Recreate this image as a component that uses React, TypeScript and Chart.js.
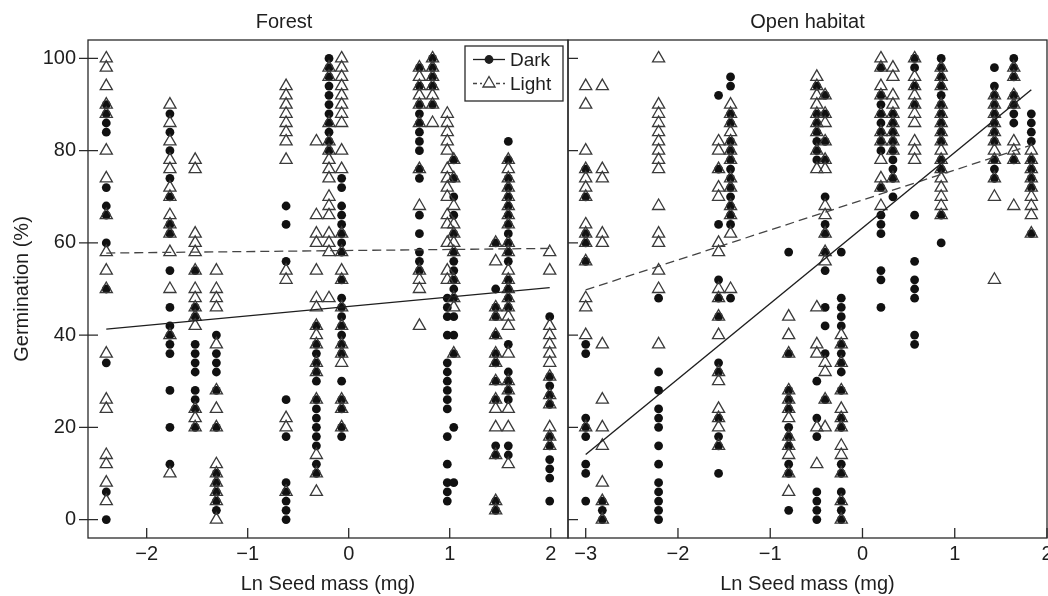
import React, { useEffect, useRef } from "react";
import { Chart, registerables } from "chart.js";

Chart.register(...registerables);

const FONT_FAMILY = "'Liberation Sans', Arial, Helvetica, sans-serif";
const INK = "#1e1e1e";
const TRI = "#3a3a3a";

// ---------- shared axis data ----------
const yTicks = [0, 20, 40, 60, 80, 100];
const forestXTicks = [-2, -1, 0, 1, 2];
const openXTicks = [-3, -2, -1, 0, 1, 2];

// ---------- Forest panel ----------
const forestX = [-2.40, -1.77, -1.52, -1.31, -0.62, -0.32, -0.195, -0.07, 0.70, 0.83, 0.976, 1.04, 1.455, 1.58, 1.99];

const forestDark: number[][] = [
  [90, 88, 86, 84, 72, 68, 66, 60, 50, 34, 6, 0],
  [88, 84, 80, 74, 70, 64, 62, 54, 46, 42, 40, 38, 36, 28, 20, 12],
  [54, 46, 44, 38, 36, 34, 32, 28, 26, 24, 20],
  [40, 36, 34, 32, 28, 20, 10, 8, 6, 4, 2],
  [68, 64, 56, 26, 18, 8, 6, 4, 2, 0],
  [42, 38, 36, 34, 32, 30, 26, 24, 22, 20, 18, 16, 12, 10],
  [100, 98, 96, 94, 92, 90, 88, 86, 84, 82, 80],
  [74, 72, 68, 66, 64, 62, 60, 58, 52, 48, 46, 44, 42, 40, 38, 36, 30, 26, 24, 20, 18],
  [98, 94, 90, 88, 86, 84, 82, 80, 76, 74, 66, 62, 58, 56, 54],
  [100, 98, 96, 94, 90],
  [48, 46, 44, 40, 34, 32, 30, 28, 26, 24, 18, 12, 8, 6, 4],
  [78, 74, 70, 66, 62, 58, 56, 54, 52, 50, 48, 44, 40, 36, 20, 8],
  [60, 50, 46, 44, 40, 36, 34, 30, 26, 16, 14, 4, 2],
  [82, 78, 74, 72, 70, 68, 66, 64, 62, 60, 58, 56, 52, 50, 48, 46, 38, 32, 30, 28, 26, 16, 14],
  [44, 31, 29, 27, 25, 18, 16, 13, 11, 9, 4],
];

const forestLight: number[][] = [
  [100, 98, 94, 90, 88, 80, 74, 66, 58, 54, 50, 36, 26, 24, 14, 12, 8, 4],
  [90, 86, 82, 78, 76, 72, 70, 66, 64, 62, 58, 50, 40, 10],
  [78, 76, 62, 60, 58, 54, 50, 48, 46, 44, 42, 24, 22, 20],
  [54, 50, 48, 46, 38, 28, 24, 20, 12, 10, 8, 6, 4, 0],
  [94, 92, 90, 88, 86, 84, 82, 78, 54, 52, 22, 20, 6],
  [82, 66, 62, 60, 54, 48, 46, 42, 40, 38, 34, 32, 26, 14, 10, 6],
  [98, 96, 86, 82, 80, 78, 76, 74, 70, 68, 66, 62, 60, 58, 48],
  [100, 98, 96, 94, 92, 90, 88, 86, 80, 76, 62, 58, 54, 52, 46, 42, 38, 36, 34, 26, 24, 20],
  [98, 96, 94, 92, 90, 86, 76, 68, 54, 52, 50, 42],
  [100, 98, 96, 94, 92, 90, 86],
  [88, 86, 84, 82, 80, 76, 74, 72, 70, 66, 64, 60, 54, 52],
  [78, 74, 68, 64, 62, 60, 58, 52, 48, 46, 36],
  [60, 56, 46, 44, 40, 36, 34, 30, 26, 24, 20, 14, 4, 2],
  [78, 76, 74, 72, 70, 68, 66, 64, 60, 58, 54, 52, 50, 48, 46, 44, 42, 36, 30, 28, 24, 20, 12],
  [58, 54, 42, 40, 38, 36, 34, 31, 27, 25, 20, 18, 16],
];

const forestDarkFit = [[-2.40, 41.3], [1.99, 50.3]];
const forestLightFit = [[-2.40, 57.8], [1.99, 58.8]];

// ---------- Open habitat panel ----------
const openX = [-3.0, -2.82, -2.21, -1.56, -1.43, -0.80, -0.495, -0.405, -0.23, 0.20, 0.33, 0.565, 0.853, 1.43, 1.64, 1.83];

const openDark: number[][] = [
  [76, 70, 62, 60, 56, 38, 36, 22, 20, 18, 12, 10, 4],
  [4, 2, 0],
  [48, 32, 28, 24, 22, 20, 16, 12, 8, 6, 4, 2, 0],
  [92, 76, 64, 52, 48, 44, 34, 32, 22, 18, 16, 10],
  [96, 94, 88, 86, 82, 80, 78, 76, 74, 72, 70, 68, 66, 64, 48],
  [58, 36, 28, 26, 24, 20, 18, 16, 12, 10, 2],
  [94, 88, 86, 84, 82, 80, 78, 30, 22, 18, 6, 4, 2, 0],
  [92, 88, 82, 78, 70, 64, 62, 58, 54, 46, 42, 36, 26],
  [58, 48, 46, 44, 42, 38, 36, 34, 32, 28, 22, 20, 12, 10, 6, 4, 2, 0],
  [98, 92, 90, 88, 86, 84, 82, 80, 72, 66, 64, 62, 54, 52, 46],
  [88, 86, 84, 82, 80, 78, 76, 74, 70],
  [100, 98, 94, 90, 66, 56, 52, 50, 48, 40, 38],
  [100, 98, 96, 94, 92, 90, 88, 86, 84, 82, 78, 76, 66, 60],
  [98, 94, 92, 90, 88, 86, 84, 82, 78, 76, 74],
  [100, 98, 96, 92, 90, 88, 86, 78],
  [88, 86, 84, 82, 78, 76, 74, 72, 62],
];

const openLight: number[][] = [
  [94, 90, 80, 76, 74, 72, 70, 64, 62, 60, 56, 48, 46, 40, 20],
  [94, 76, 74, 62, 60, 38, 26, 20, 16, 8, 4, 0],
  [100, 90, 88, 86, 84, 82, 80, 78, 76, 68, 62, 60, 54, 50, 38],
  [82, 80, 76, 72, 70, 60, 58, 50, 48, 44, 40, 32, 30, 24, 22, 20, 16],
  [90, 88, 86, 84, 82, 80, 78, 74, 72, 68, 66, 62, 50],
  [44, 40, 36, 28, 26, 24, 22, 18, 16, 14, 10, 6],
  [96, 94, 92, 90, 88, 86, 84, 80, 76, 46, 38, 36, 20, 12],
  [92, 88, 86, 82, 78, 76, 68, 66, 62, 58, 56, 34, 32, 26, 20],
  [40, 38, 34, 28, 24, 22, 20, 16, 14, 10, 4, 0],
  [100, 98, 94, 92, 88, 84, 82, 78, 74, 72, 68],
  [98, 96, 92, 90, 88, 86, 84, 82, 80, 74],
  [100, 96, 94, 92, 90, 88, 86, 82, 80, 78],
  [98, 96, 94, 90, 88, 86, 84, 82, 80, 78, 76, 74, 72, 70, 68, 66],
  [92, 90, 88, 86, 84, 82, 80, 78, 74, 70, 52],
  [98, 96, 92, 90, 82, 80, 78, 68],
  [80, 78, 76, 74, 72, 70, 68, 66, 62],
];

const openDarkFit = [[-3.0, 14.1], [1.83, 93.2]];
const openLightFit = [[-3.0, 49.8], [1.83, 81.2]];

// ---------- helpers ----------
function toPoints(xs: number[], cols: number[][]) {
  const pts: { x: number; y: number }[] = [];
  xs.forEach((x, i) => cols[i].forEach((v) => pts.push({ x, y: v })));
  return pts;
}
function fitPoints(pairs: number[][]) {
  return pairs.map(([x, y]) => ({ x, y }));
}
const fmt = (v: number) => (v < 0 ? "\u2212" + Math.abs(v) : String(v));

interface PanelSpec {
  title: string;
  xs: number[];
  dark: number[][];
  light: number[][];
  darkFit: number[][];
  lightFit: number[][];
  xTicks: number[];
  xMin: number;
  xMax: number;
  showY: boolean;
  legend: boolean;
  padLeft: number;
  padRight: number;
}

function makeFramePlugin(spec: PanelSpec) {
  return {
    id: "frameTicks",
    beforeDatasetsDraw(chart: any) {
      const { ctx, chartArea: a, scales } = chart;
      ctx.save();
      ctx.strokeStyle = "#2a2a2a";
      ctx.lineWidth = 1.3;
      ctx.strokeRect(a.left, a.top, a.right - a.left, a.bottom - a.top);
      ctx.beginPath();
      spec.xTicks.forEach((v) => {
        const px = scales.x.getPixelForValue(v);
        ctx.moveTo(px, a.bottom);
        ctx.lineTo(px, a.bottom - 10);
      });
      yTicks.forEach((v) => {
        const py = scales.y.getPixelForValue(v);
        ctx.moveTo(a.left - (spec.showY ? 9 : 0), py);
        ctx.lineTo(a.left + 10, py);
      });
      ctx.stroke();
      ctx.restore();
    },
  };
}

const legendPlugin = {
  id: "boxLegend",
  afterDatasetsDraw(chart: any) {
    const { ctx, chartArea: a } = chart;
    const x0 = a.right - 103;
    const y0 = a.top + 6;
    const w = 98;
    const h = 55;
    ctx.save();
    ctx.fillStyle = "#ffffff";
    ctx.fillRect(x0, y0, w, h);
    ctx.strokeStyle = "#2a2a2a";
    ctx.lineWidth = 1.3;
    ctx.strokeRect(x0, y0, w, h);
    const r1 = y0 + 13.5;
    const r2 = y0 + 37.5;
    const lx0 = x0 + 8;
    const lx1 = x0 + 40;
    const mx = x0 + 24;
    // Dark row
    ctx.strokeStyle = INK;
    ctx.beginPath();
    ctx.moveTo(lx0, r1);
    ctx.lineTo(lx1, r1);
    ctx.stroke();
    ctx.fillStyle = INK;
    ctx.beginPath();
    ctx.arc(mx, r1, 4.4, 0, Math.PI * 2);
    ctx.fill();
    // Light row
    ctx.strokeStyle = "#444";
    ctx.setLineDash([4, 3]);
    ctx.beginPath();
    ctx.moveTo(lx0, r2);
    ctx.lineTo(mx - 7, r2);
    ctx.moveTo(mx + 7, r2);
    ctx.lineTo(lx1, r2);
    ctx.stroke();
    ctx.setLineDash([]);
    const r = 7;
    ctx.strokeStyle = TRI;
    ctx.beginPath();
    ctx.moveTo(mx, r2 - r);
    ctx.lineTo(mx + r * 0.866, r2 + r / 2);
    ctx.lineTo(mx - r * 0.866, r2 + r / 2);
    ctx.closePath();
    ctx.stroke();
    ctx.fillStyle = INK;
    ctx.font = `19px ${FONT_FAMILY}`;
    ctx.textBaseline = "middle";
    ctx.textAlign = "left";
    ctx.fillText("Dark", x0 + 45, r1 + 1);
    ctx.fillText("Light", x0 + 45, r2 + 1);
    ctx.restore();
  },
};

function buildConfig(spec: PanelSpec): any {
  const font = { family: FONT_FAMILY, size: 20, weight: "normal" as const };
  const plugins: any[] = [makeFramePlugin(spec)];
  if (spec.legend) plugins.push(legendPlugin);
  return {
    type: "scatter",
    data: {
      datasets: [
        {
          label: "Dark fit",
          data: fitPoints(spec.darkFit),
          showLine: true,
          borderColor: INK,
          borderWidth: 1.4,
          pointRadius: 0,
          order: 0,
        },
        {
          label: "Light fit",
          data: fitPoints(spec.lightFit),
          showLine: true,
          borderColor: "#444",
          borderWidth: 1.3,
          borderDash: [9, 5],
          pointRadius: 0,
          order: 0,
        },
        {
          label: "Light",
          data: toPoints(spec.xs, spec.light),
          pointStyle: "triangle",
          pointRadius: 7,
          pointBackgroundColor: "rgba(0,0,0,0)",
          pointBorderColor: TRI,
          pointBorderWidth: 1.3,
          showLine: false,
          order: 1,
        },
        {
          label: "Dark",
          data: toPoints(spec.xs, spec.dark),
          pointStyle: "circle",
          pointRadius: 4.4,
          pointBackgroundColor: "#111",
          pointBorderWidth: 0,
          showLine: false,
          order: 2,
        },
      ],
    },
    options: {
      animation: false,
      responsive: false,
      maintainAspectRatio: false,
      devicePixelRatio: 1,
      events: [],
      layout: {
        autoPadding: false,
        padding: { top: 0, bottom: 0, left: spec.padLeft, right: spec.padRight },
      },
      plugins: {
        legend: { display: false },
        tooltip: { enabled: false },
        title: {
          display: true,
          text: spec.title,
          font,
          color: INK,
          padding: { top: 10, bottom: 6 },
        },
      },
      scales: {
        x: {
          type: "linear",
          position: "bottom",
          min: spec.xMin,
          max: spec.xMax,
          afterBuildTicks: (s: any) => {
            s.ticks = spec.xTicks.map((v) => ({ value: v }));
          },
          afterFit: (s: any) => {
            s.height = 58;
            s.paddingLeft = 0;
            s.paddingRight = 0;
          },
          grid: { display: false, drawTicks: false },
          border: { display: false },
          ticks: {
            font,
            color: INK,
            padding: 4,
            autoSkip: false,
            maxRotation: 0,
            callback: (v: number) => fmt(v),
          },
          title: {
            display: true,
            text: "Ln Seed mass (mg)",
            font,
            color: INK,
            padding: { top: 0, bottom: 0 },
          },
        },
        y: {
          type: "linear",
          display: spec.showY,
          min: -4,
          max: 104,
          afterBuildTicks: (s: any) => {
            s.ticks = yTicks.map((v) => ({ value: v }));
          },
          afterFit: (s: any) => {
            if (spec.showY) s.width = 88;
            s.paddingTop = 0;
            s.paddingBottom = 0;
          },
          grid: { display: false, drawTicks: false },
          border: { display: false },
          ticks: { font, color: INK, padding: 12, callback: (v: number) => fmt(v) },
          title: {
            display: true,
            text: "Germination (%)",
            font,
            color: INK,
            padding: { top: 10, bottom: 0 },
          },
        },
      },
    },
    plugins,
  };
}

const forestSpec: PanelSpec = {
  title: "Forest",
  xs: forestX,
  dark: forestDark,
  light: forestLight,
  darkFit: forestDarkFit,
  lightFit: forestLightFit,
  xTicks: forestXTicks,
  xMin: -2.581,
  xMax: 2.171,
  showY: true,
  legend: true,
  padLeft: 0,
  padRight: 1,
};

const openSpec: PanelSpec = {
  title: "Open habitat",
  xs: openX,
  dark: openDark,
  light: openLight,
  darkFit: openDarkFit,
  lightFit: openLightFit,
  xTicks: openXTicks,
  xMin: -3.192,
  xMax: 2.0,
  showY: false,
  legend: false,
  padLeft: 1,
  padRight: 1,
};

function Panel({ spec, left, width }: { spec: PanelSpec; left: number; width: number }) {
  const ref = useRef<HTMLCanvasElement>(null);
  useEffect(() => {
    const chart = new Chart(ref.current as HTMLCanvasElement, buildConfig(spec));
    return () => chart.destroy();
  }, [spec]);
  return (
    <canvas
      ref={ref}
      width={width}
      height={596}
      style={{ position: "absolute", left, top: 0, width, height: 596 }}
    />
  );
}

export default function App() {
  return (
    <div
      style={{
        position: "absolute",
        left: 0,
        top: 0,
        width: 1048,
        height: 596,
        background: "#ffffff",
        overflow: "hidden",
      }}
    >
      <Panel spec={forestSpec} left={0} width={569} />
      <Panel spec={openSpec} left={567} width={481} />
    </div>
  );
}
